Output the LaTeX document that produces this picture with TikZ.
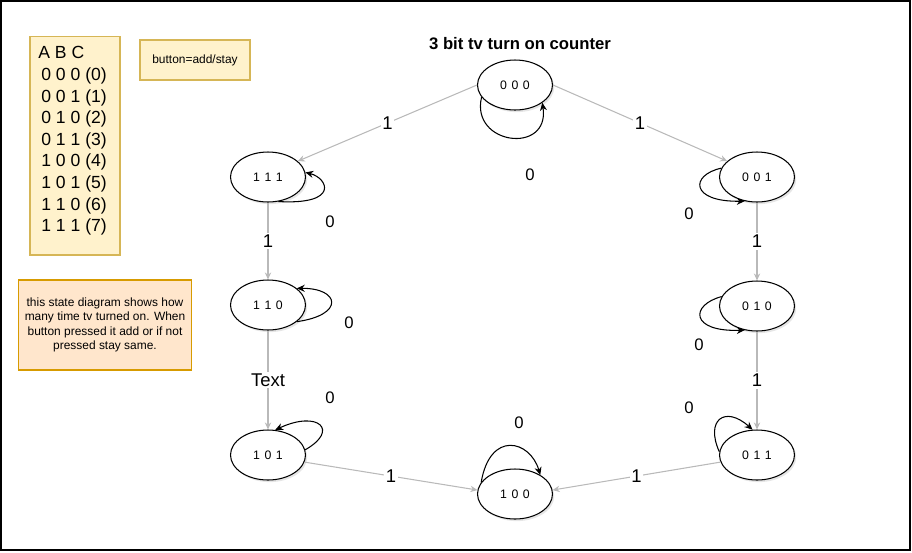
\documentclass[tikz,border=0pt]{standalone}
\usepackage{fontspec}
\setmainfont{Liberation Sans}
\usepackage{xcolor}
\definecolor{ny}{HTML}{FFF2CC}
\definecolor{nyd}{HTML}{D6B656}
\definecolor{no}{HTML}{FFE6CC}
\definecolor{nod}{HTML}{D79B00}
\definecolor{eg}{RGB}{185,185,185}
\usepackage{tikz}
\usetikzlibrary{arrows.meta,shapes.geometric,shadows}
\newcommand{\tribit}[3]{#1\hspace{2.6pt}#2\hspace{2.6pt}#3}

\begin{document}
\begin{tikzpicture}[x=0.02cm,y=-0.02cm,
  st/.style={ellipse,draw,line width=0.6pt,fill=white,minimum width=1.5cm,minimum height=1cm,inner sep=0pt,
    font=\fontsize{7}{8}\selectfont,drop shadow={opacity=0.2,shadow xshift=1pt,shadow yshift=-1.2pt}},
  tr/.style={eg,line width=0.6pt,-{Stealth[length=4pt,width=3.6pt]}},
  self/.style={line width=0.6pt,-{Stealth[length=4.5pt,width=4pt]}},
  one/.style={text=black,font=\fontsize{10.5}{12}\selectfont,fill=white,inner sep=1pt},
  zero/.style={font=\fontsize{9.5}{11}\selectfont}]
  \useasboundingbox (0,0) rectangle (912,552);
  % frame
  \draw[line width=0.8pt] (1,1) rectangle (910,550);

  % notes on the left
  \node[draw=nyd,fill=ny,line width=0.6pt,minimum width=1.8cm,minimum height=4.38cm] (tbl) at (75,145.5) {};
  \node[align=left,font=\fontsize{10}{12.3}\selectfont,inner sep=0pt,anchor=west] (abc) at (38,141)
    {A B C\\ \hspace*{1.7pt}0 0 0 (0)\\ \hspace*{1.7pt}0 0 1 (1)\\ \hspace*{1.7pt}0 1 0 (2)\\ \hspace*{1.7pt}0 1 1 (3)\\
     \hspace*{1.7pt}1 0 0 (4)\\ \hspace*{1.7pt}1 0 1 (5)\\ \hspace*{1.7pt}1 1 0 (6)\\ \hspace*{1.7pt}1 1 1 (7)};
  \node[draw=nyd,fill=ny,line width=0.6pt,minimum width=2.2cm,minimum height=0.8cm,font=\fontsize{6.8}{8}\selectfont] (btn) at (195,60) {button=add/stay};
  \node[draw=nod,fill=no,line width=0.6pt,minimum width=3.4cm,minimum height=1.8cm,align=center,font=\fontsize{6.8}{8.3}\selectfont] (info) at (105,325)
    {this state diagram shows how\\ many time tv turned on. When\\ button pressed it add or if not\\ pressed stay same.};

  % title
  \node[font=\bfseries\fontsize{9.5}{11}\selectfont] (ttl) at (520,44) {3 bit tv turn on counter};

  % states
  \node[st] (s000) at (515,85) {\tribit000};
  \node[st] (s111) at (268,177) {\tribit111};
  \node[st] (s001) at (757,177) {\tribit001};
  \node[st] (s110) at (268,305) {\tribit110};
  \node[st] (s010) at (757,306) {\tribit010};
  \node[st] (s101) at (268,455) {\tribit101};
  \node[st] (s011) at (757,455) {\tribit011};
  \node[st] (s100) at (515,494) {\tribit100};

  % button pressed
  \draw[tr] (s000.west) -- (s111.28) node[one,midway] {1};
  \draw[tr] (s000.east) -- (s001.152) node[one,midway] {1};
  \draw[tr] (s111.south) -- (s110.north) node[one,midway] {1};
  \draw[tr] (s001.south) -- (s010.north) node[one,midway] {1};
  \draw[tr] (s110.south) -- (s101.north) node[one,midway] {Text};
  \draw[tr] (s010.south) -- (s011.north) node[one,midway] {1};
  \draw[tr] (s101.-11) -- (s100.174) node[one,midway] {1};
  \draw[tr] (s011.191) -- (s100.6) node[one,midway] {1};

  % not pressed: stay
  \draw[self] (s000.200) .. controls (470,145) and (550,155) .. (s000.-33);
  \draw[self] (s111.-67) .. controls (340,205) and (328,178) .. (s111.7);
  \draw[self] (s001.166) .. controls (690,175) and (690,202) .. (s001.-117);
  \draw[self] (s110.-30) .. controls (345,315) and (340,288) .. (s110.30);
  \draw[self] (s010.165) .. controls (690,305) and (690,332) .. (s010.-117);
  \draw[self] (s101.8) .. controls (340,430) and (318,410) .. (s101.74);
  \draw[self] (s011.175) .. controls (705,420) and (725,405) .. (s011.100);
  \draw[self] (s100.161) .. controls (490,430) and (530,440) .. (s100.37);

  \node[zero] (z000) at (530,175) {0};
  \node[zero] (z111) at (330,222) {0};
  \node[zero] (z001) at (689,214) {0};
  \node[zero] (z110) at (349,323) {0};
  \node[zero] (z010) at (699,345) {0};
  \node[zero] (z101) at (330,398) {0};
  \node[zero] (z011) at (689,408) {0};
  \node[zero] (z100) at (519,423) {0};
\end{tikzpicture}
\end{document}
